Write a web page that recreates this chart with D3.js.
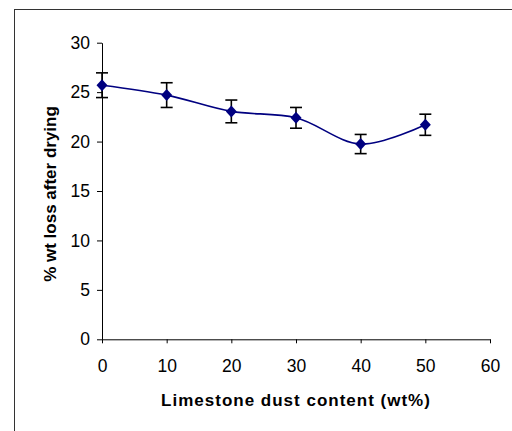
<!DOCTYPE html>
<html>
<head>
<meta charset="utf-8">
<script src="https://cdn.jsdelivr.net/npm/d3@7"></script>
<style>
  body { margin: 0; background: #fff; }
  svg { display: block; font-family: "Liberation Sans", Arial, sans-serif; }
</style>
</head>
<body>
<svg class="chart"></svg>
<script>
const size = {w: 512, h: 431};

// limestone dust content (wt%)
const dustContent = [0, 10, 20, 30, 40, 50];
// % wt loss after drying
const wtLoss = [25.7, 24.7, 23.05, 22.4, 19.75, 21.7];
// error bar half-widths
const wtLossErr = [1.25, 1.25, 1.15, 1.05, 0.97, 1.07];

const xTicks = [0, 10, 20, 30, 40, 50, 60];
const yTicks = [0, 5, 10, 15, 20, 25, 30];

const plot = {left: 102, right: 490, top: 42.7, bottom: 339.3};

const svg = d3.select('svg.chart')
    .attr('width', size.w)
    .attr('height', size.h);

// outer frame, runs past the window on the right and bottom
svg.append('rect')
    .attr('x', 14.5)
    .attr('y', 9.5)
    .attr('width', 540)
    .attr('height', 460)
    .attr('fill', 'none')
    .attr('stroke', '#333')
    .attr('stroke-width', 1);

const x = d3.scaleLinear().domain([0, 60]).range([plot.left, plot.right]);
const y = d3.scaleLinear().domain([0, 30]).range([plot.bottom, plot.top]);

// axes
const xAxis = svg.append('g')
    .attr('transform', `translate(0,${plot.bottom})`)
    .call(d3.axisBottom(x).tickValues(xTicks).tickSize(4).tickSizeOuter(0).tickPadding(16));

const yAxis = svg.append('g')
    .attr('transform', `translate(${plot.left},0)`)
    .call(d3.axisLeft(y).tickValues(yTicks).tickSize(5).tickSizeOuter(0).tickPadding(7));

[xAxis, yAxis].forEach(a => {
    a.select('.domain').attr('stroke', '#000');
    a.selectAll('.tick line').attr('stroke', '#000');
    a.selectAll('.tick text')
        .attr('fill', '#000')
        .style('font-size', '17.5px')
        .style('font-family', '"Liberation Sans", Arial, sans-serif');
});

// axis titles
svg.append('text')
    .attr('x', (plot.left + plot.right) / 2)
    .attr('y', 406)
    .attr('text-anchor', 'middle')
    .style('font-size', '17px')
    .style('font-weight', 'bold')
    .style('letter-spacing', '1px')
    .text('Limestone dust content (wt%)');

svg.append('text')
    .attr('transform', `translate(55.5,${(plot.top + plot.bottom) / 2 + 3}) rotate(-90)`)
    .attr('text-anchor', 'middle')
    .style('font-size', '17px')
    .style('font-weight', 'bold')
    .text('% wt loss after drying');

const data = dustContent.map((d, i) => ({x: d, y: wtLoss[i], e: wtLossErr[i]}));

// smoothed line
const lineFn = d3.line()
    .curve(d3.curveCatmullRom.alpha(0.5))
    .x(d => x(d.x))
    .y(d => y(d.y));

svg.append('path')
    .datum(data)
    .attr('d', lineFn)
    .attr('fill', 'none')
    .attr('stroke', '#000080')
    .attr('stroke-width', 1.6);

// error bars
const errG = svg.append('g')
    .attr('stroke', '#000')
    .attr('stroke-width', 1.6);

errG.selectAll('line.err')
    .data(data)
    .join('line')
    .classed('err', true)
    .attr('x1', d => x(d.x))
    .attr('x2', d => x(d.x))
    .attr('y1', d => y(d.y + d.e))
    .attr('y2', d => y(d.y - d.e));

errG.selectAll('line.cap-top')
    .data(data)
    .join('line')
    .classed('cap-top', true)
    .attr('x1', d => x(d.x) - 6)
    .attr('x2', d => x(d.x) + 6)
    .attr('y1', d => y(d.y + d.e))
    .attr('y2', d => y(d.y + d.e));

errG.selectAll('line.cap-bot')
    .data(data)
    .join('line')
    .classed('cap-bot', true)
    .attr('x1', d => x(d.x) - 6)
    .attr('x2', d => x(d.x) + 6)
    .attr('y1', d => y(d.y - d.e))
    .attr('y2', d => y(d.y - d.e));

// diamond markers
svg.append('g')
    .selectAll('path')
    .data(data)
    .join('path')
    .attr('transform', d => `translate(${x(d.x)},${y(d.y)})`)
    .attr('d', 'M0,-6L5.5,0L0,6L-5.5,0Z')
    .attr('fill', '#000080');
</script>
</body>
</html>
